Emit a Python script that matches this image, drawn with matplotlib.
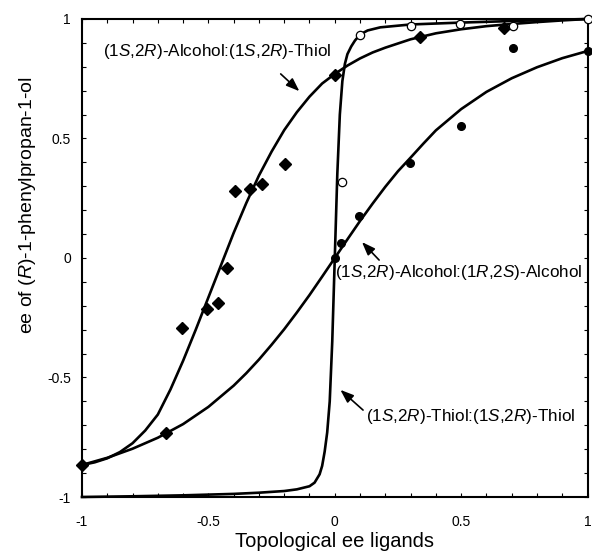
import matplotlib

matplotlib.use("Agg")
import matplotlib.pyplot as plt
from matplotlib.ticker import MultipleLocator, FixedLocator

plt.rcParams["font.family"] = ["Liberation Sans", "DejaVu Sans"]
plt.rcParams["mathtext.fontset"] = "custom"
plt.rcParams["mathtext.rm"] = "Liberation Sans"
plt.rcParams["mathtext.it"] = "Liberation Sans:italic"

# Fitted curves
alc_thiol_x = [-1.0, -0.95, -0.9, -0.85, -0.8, -0.75, -0.7, -0.65, -0.6, -0.55, -0.5,
               -0.45, -0.4, -0.35, -0.3, -0.25, -0.2, -0.15, -0.1, -0.05, 0.0, 0.05,
               0.1, 0.15, 0.2, 0.3, 0.4, 0.5, 0.6, 0.7, 0.8, 0.9, 1.0]
alc_thiol_y = [-0.866, -0.855, -0.838, -0.812, -0.775, -0.722, -0.655, -0.55, -0.43,
               -0.30, -0.165, -0.03, 0.105, 0.23, 0.345, 0.445, 0.535, 0.61, 0.675,
               0.73, 0.77, 0.805, 0.835, 0.86, 0.88, 0.915, 0.94, 0.957, 0.970, 0.979,
               0.987, 0.994, 1.0]

alc_alc_x = [-1.0, -0.9, -0.8, -0.7, -0.6, -0.5, -0.4, -0.35, -0.3, -0.25, -0.2, -0.15,
             -0.1, -0.05, 0.0, 0.05, 0.1, 0.15, 0.2, 0.25, 0.3, 0.35, 0.4, 0.5, 0.6,
             0.7, 0.8, 0.9, 1.0]
alc_alc_y = [-0.866, -0.836, -0.798, -0.752, -0.695, -0.623, -0.534, -0.482, -0.425,
             -0.363, -0.298, -0.228, -0.155, -0.078, 0.0, 0.078, 0.155, 0.228, 0.298,
             0.363, 0.42, 0.478, 0.534, 0.623, 0.695, 0.752, 0.798, 0.836, 0.866]

thiol_thiol_x = [-1.0, -0.8, -0.6, -0.4, -0.3, -0.2, -0.15, -0.1, -0.08, -0.06, -0.05,
                 -0.04, -0.03, -0.02, -0.01, 0.0, 0.01, 0.02, 0.03, 0.04, 0.05, 0.065,
                 0.08, 0.1, 0.13, 0.18, 0.3, 0.5, 0.75, 1.0]
thiol_thiol_y = [-1.0, -0.997, -0.993, -0.987, -0.982, -0.975, -0.968, -0.955, -0.94,
                 -0.905, -0.87, -0.81, -0.73, -0.6, -0.35, 0.0, 0.35, 0.6, 0.74, 0.812,
                 0.853, 0.885, 0.91, 0.935, 0.952, 0.965, 0.977, 0.985, 0.993, 1.0]

# Measured points
diamond_x = [-1.0, -0.666, -0.603, -0.505, -0.462, -0.428, -0.395, -0.336, -0.289,
             -0.198, 0.0, 0.336, 0.670]
diamond_y = [-0.866, -0.732, -0.293, -0.213, -0.188, -0.042, 0.28, 0.289, 0.31,
             0.393, 0.766, 0.925, 0.962]

filled_x = [0.0, 0.026, 0.096, 0.297, 0.50, 0.705, 1.0]
filled_y = [0.0, 0.063, 0.176, 0.397, 0.552, 0.879, 0.866]

open_x = [0.03, 0.10, 0.30, 0.497, 0.705, 1.0]
open_y = [0.318, 0.933, 0.971, 0.979, 0.971, 1.0]

tick_vals = [-1, -0.5, 0, 0.5, 1]
tick_labels = ["-1", "-0.5", "0", "0.5", "1"]

fig = plt.figure(figsize=(5.92, 5.55), dpi=100)
ax = fig.add_axes([0.1385, 0.1045, 0.854, 0.8613])

lw = 1.9
for cx, cy in [(alc_thiol_x, alc_thiol_y), (alc_alc_x, alc_alc_y),
               (thiol_thiol_x, thiol_thiol_y)]:
    ax.plot(cx, cy, color="black", lw=lw, clip_on=False, zorder=3,
            solid_joinstyle="round")

ax.plot(diamond_x, diamond_y, "D", color="black", ms=6.5, ls="none",
        clip_on=False, zorder=4)
ax.plot(filled_x, filled_y, "o", color="black", ms=5.5, ls="none",
        clip_on=False, zorder=4)
ax.plot(open_x, open_y, "o", mfc="white", mec="black", mew=0.9, ms=6, ls="none",
        clip_on=False, zorder=5)

ax.set_xlim(-1, 1)
ax.set_ylim(-1, 1)
ax.xaxis.set_major_locator(FixedLocator(tick_vals))
ax.yaxis.set_major_locator(FixedLocator(tick_vals))
ax.set_xticklabels(tick_labels)
ax.set_yticklabels(tick_labels)
ax.xaxis.set_minor_locator(MultipleLocator(0.1))
ax.yaxis.set_minor_locator(MultipleLocator(0.1))
ax.tick_params(which="both", direction="in", top=True, right=True,
               length=3, width=0.8)
ax.tick_params(axis="x", which="major", pad=13, labelsize=10)
ax.tick_params(axis="y", which="major", pad=8, labelsize=10)
for s in ax.spines.values():
    s.set_linewidth(1.5)

ax.set_xlabel("Topological ee ligands", fontsize=14.5, labelpad=2)
ax.set_ylabel("ee of ($\\mathit{R}$)-1-phenylpropan-1-ol", fontsize=14)
# label sits above the axis centre in the original
ax.yaxis.set_label_coords(-0.087, 0.61)

S, R = "$\\mathit{S}$", "$\\mathit{R}$"
arrow = dict(arrowstyle="-|>,head_length=0.8,head_width=0.3", color="black", lw=1.2)
fs = 12.3
ax.text(-0.466, 0.862, f"(1{S},2{R})-Alcohol:(1{S},2{R})-Thiol", fontsize=fs,
        ha="center", va="center")
ax.annotate("", xy=(-0.132, 0.69), xytext=(-0.222, 0.778), arrowprops=arrow)
ax.annotate("", xy=(0.1, 0.075), xytext=(0.183, -0.017), arrowprops=arrow)
ax.text(0.002, -0.059, f"(1{S},2{R})-Alcohol:(1{R},2{S})-Alcohol", fontsize=fs,
        ha="left", va="center")
ax.annotate("", xy=(0.014, -0.544), xytext=(0.12, -0.644), arrowprops=arrow)
ax.text(0.124, -0.665, f"(1{S},2{R})-Thiol:(1{S},2{R})-Thiol", fontsize=fs,
        ha="left", va="center")

fig.savefig("out.png", dpi=100)
